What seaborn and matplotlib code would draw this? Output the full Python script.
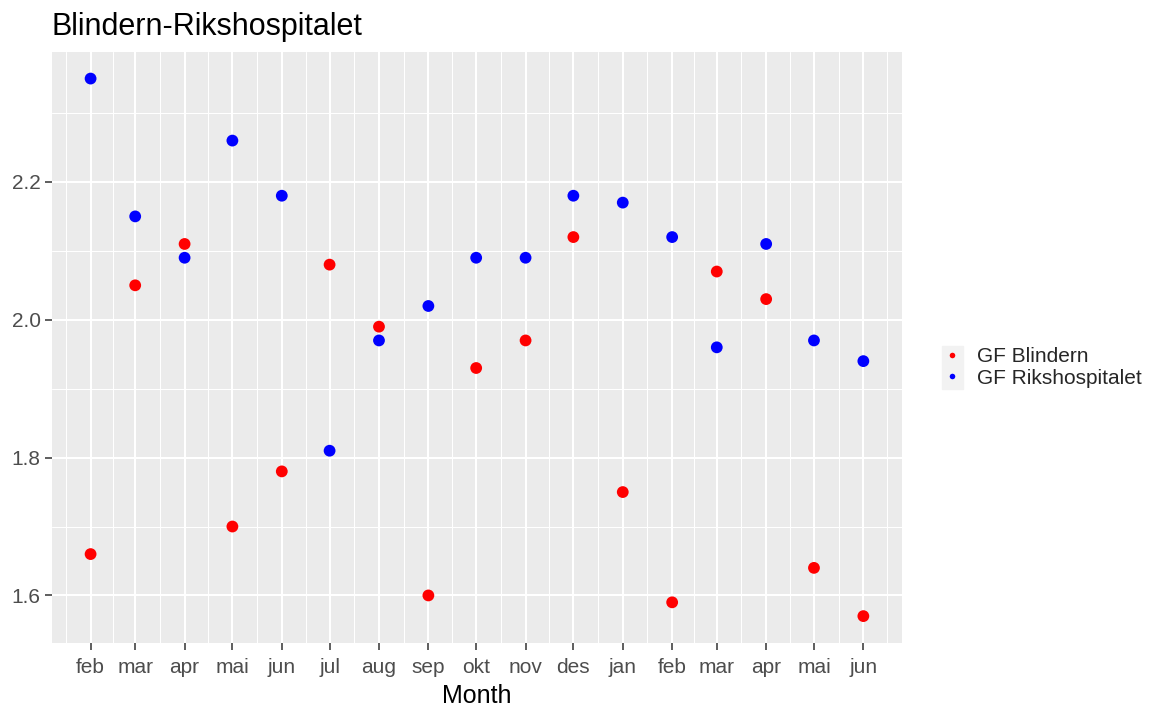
import pandas as pd
import seaborn as sns
import matplotlib.pyplot as plt
import matplotlib.dates as mdates
from matplotlib.patches import Rectangle

# monthly values, first of each month
months = ["2022-02-01", "2022-03-01", "2022-04-01", "2022-05-01", "2022-06-01",
          "2022-07-01", "2022-08-01", "2022-09-01", "2022-10-01", "2022-11-01",
          "2022-12-01", "2023-01-01", "2023-02-01", "2023-03-01", "2023-04-01",
          "2023-05-01", "2023-06-01"]
month_labels = ["feb", "mar", "apr", "mai", "jun", "jul", "aug", "sep", "okt",
                "nov", "des", "jan", "feb", "mar", "apr", "mai", "jun"]
gf_blindern = [1.66, 2.05, 2.11, 1.70, 1.78, 2.08, 1.99, 1.60, 1.93, 1.97,
               2.12, 1.75, 1.59, 2.07, 2.03, 1.64, 1.57]
gf_riks = [2.35, 2.15, 2.09, 2.26, 2.18, 1.81, 1.97, 2.02, 2.09, 2.09,
           2.18, 2.17, 2.12, 1.96, 2.11, 1.97, 1.94]

df = pd.DataFrame({
    "Month": pd.to_datetime(months * 2),
    "value": gf_blindern + gf_riks,
    "series": ["GF Blindern"] * len(months) + ["GF Rikshospitalet"] * len(months),
})

sns.set_theme(style="darkgrid", rc={"axes.facecolor": "#EBEBEB", "grid.color": "white"})
plt.rcParams["font.family"] = ["Liberation Sans", "DejaVu Sans"]

fig = plt.figure(figsize=(11.57, 7.09), dpi=100)
ax = fig.add_axes([0.0449, 0.0931, 0.7347, 0.8340])

sns.scatterplot(data=df, x="Month", y="value", hue="series",
                palette={"GF Blindern": "red", "GF Rikshospitalet": "blue"},
                s=72, linewidth=0, ax=ax)

# ggplot-like expansion (5%)
dnum = mdates.date2num(pd.to_datetime(months))
span = dnum[-1] - dnum[0]
ax.set_xlim(dnum[0] - 0.05 * span, dnum[-1] + 0.05 * span)
lo, hi = min(df["value"]), max(df["value"])
ax.set_ylim(lo - 0.05 * (hi - lo), hi + 0.05 * (hi - lo))

ax.set_xticks(dnum)
ax.set_xticklabels(month_labels)
edges = mdates.date2num(pd.to_datetime(["2022-01-01"] + months + ["2023-07-01"]))
ax.set_xticks((edges[:-1] + edges[1:]) / 2, minor=True)
ax.set_yticks([1.6, 1.8, 2.0, 2.2])
ax.set_yticklabels(["1.6", "1.8", "2.0", "2.2"])
ax.set_yticks([1.7, 1.9, 2.1, 2.3], minor=True)

ax.grid(which="major", color="white", linewidth=1.5)
ax.grid(which="minor", color="white", linewidth=0.75)
ax.tick_params(which="minor", length=0)
ax.tick_params(which="major", bottom=True, left=True, length=5, width=1.1,
               color="#333333", labelcolor="#4D4D4D", labelsize=15, pad=3)
ax.tick_params(axis="x", which="major", pad=6)
for sp in ax.spines.values():
    sp.set_visible(False)

ax.set_ylabel("")
ax.set_xlabel("Month", fontsize=18, labelpad=5, color="black")
ax.set_title("Blindern-Rikshospitalet", loc="left", fontsize=22, pad=12, color="black")

handles, labels = ax.get_legend_handles_labels()
ax.get_legend().remove()
for h in handles:
    h.set_markersize(4)
fig.patches.append(Rectangle((0.8142, 0.4513), 0.01815, 0.0606,
                             transform=fig.transFigure, color="#F2F2F2", zorder=0))
fig.legend(handles, labels, loc="center left", bbox_to_anchor=(0.8142, 0.4817),
           frameon=False, fontsize=15, handlelength=1.0, handletextpad=0.67,
           labelspacing=0.1, borderpad=0, borderaxespad=0)

plt.savefig("out.png", dpi=100)
